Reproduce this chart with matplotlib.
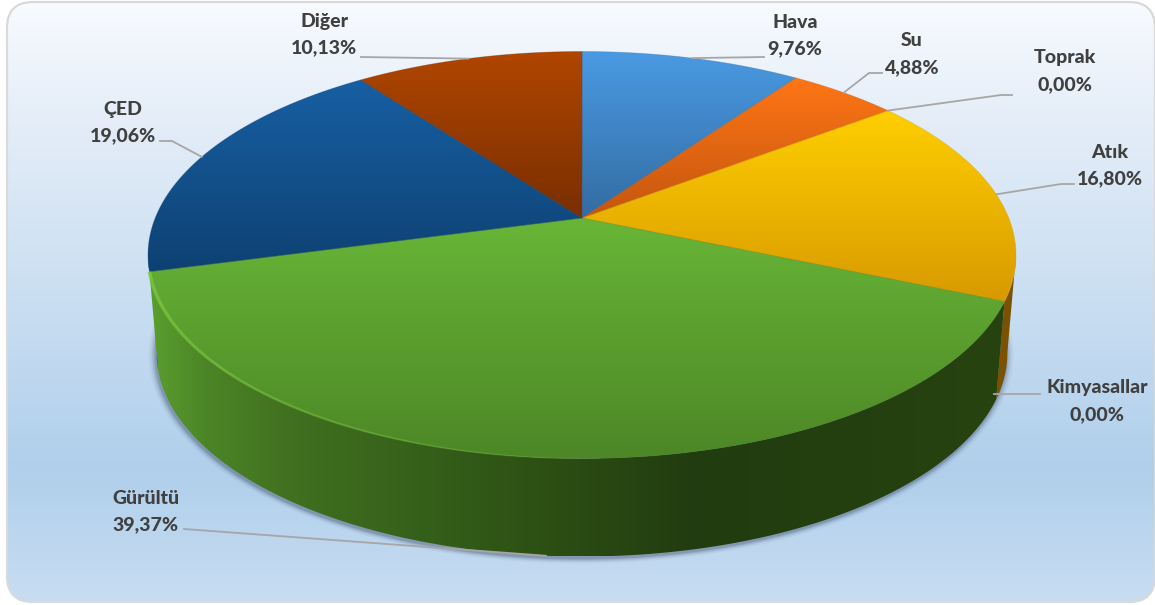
import numpy as np
import matplotlib
matplotlib.use("Agg")
import matplotlib.pyplot as plt
import matplotlib.colors as mcolors
from matplotlib.patches import FancyBboxPatch, Polygon
from matplotlib.collections import LineCollection

plt.rcParams['font.family'] = ['Lato', 'DejaVu Sans']

categories = ["Hava", "Su", "Toprak", "Atık", "Kimyasallar", "Gürültü", "ÇED", "Diğer"]
values = [9.76, 4.88, 0.00, 16.80, 0.00, 39.37, 19.06, 10.13]

top_colors = ["#4A9AE3", "#FF7615", "#FFCF00", "#FFCF00", "#66B536", "#68B637", "#175FA3", "#B04600"]
low_colors = ["#336CA2", "#C4560F", "#D89A00", "#D89A00", "#4D8726", "#4D8726", "#0E4172", "#7A2E00"]
wall_colors = ["#2A5580", "#8A3D08", "#80570A", "#7A5200", "#27430F", None, "#0D3A66", "#6A2800"]

# x position and colour of the shading on the front of the big slice
green_wall_x = [155, 205, 290, 420, 540, 700, 1000]
green_wall_c = ["#5A9C2E", "#4C8527", "#417020", "#35601A", "#2D5014", "#213C10", "#27430F"]

# label text centre (x, first line y) and leader bend / end points
label_pos = [(795, 22), (912, 41), (1065, 58), (1110, 152), (1097, 388), (146, 498), (123, 109), (324, 21)]
leader_bends = [
    [(764, 57)],
    [(869, 73), (882, 73)],
    [(1001, 95), (1012, 95)],
    [(1061, 184), (1074, 184)],
    [(1003, 394), (1040, 394)],
    [(184, 529)],
    [(172, 141), (160, 141)],
    [(361, 57)],
]

# pie seen in perspective: top rim ellipse centre and size, tilt factor
CX, CY = 582.0, 255.0
RX, RY = 434.0, 203.5
TILT = 37.0 / 203.5
DEPTH = 98.0
BOTTOM_SHRINK = 0.98


def project(theta, bottom=False):
    """Map clockwise-from-top angles (degrees) on the disc to pixel positions."""
    t = np.radians(theta)
    c, s = np.sin(t), np.cos(t)
    a = RX * np.sqrt(1 - TILT ** 2)
    w = 1 + TILT * s
    u = a * c / w
    v = (RY * s + RY * TILT) / w
    if bottom:
        return CX + u * BOTTOM_SHRINK, CY - v + DEPTH
    return CX + u, CY - v


def blend(stops, positions, samples):
    rgb = np.array([mcolors.to_rgb(c) for c in stops])
    return np.stack([np.interp(samples, positions, rgb[:, i]) for i in range(3)], axis=-1)


def gradient_patch(ax, pts, stops, positions, horizontal=False, zorder=3):
    """Fill a polygon with a linear gradient, clipped image plus soft edge."""
    pts = np.asarray(pts)
    x0, y0 = pts.min(axis=0)
    x1, y1 = pts.max(axis=0)
    if horizontal:
        img = blend(stops, positions, np.linspace(x0, x1, 600))[np.newaxis, :, :]
    else:
        img = blend(stops, positions, np.linspace(y0, y1, 400))[:, np.newaxis, :]
    im = ax.imshow(img, extent=(x0, x1, y1, y0), aspect='auto', zorder=zorder, interpolation='bilinear')
    poly = Polygon(pts, closed=True, transform=ax.transData, fill=False, lw=0)
    ax.add_patch(poly)
    im.set_clip_path(poly)
    return im


fig = plt.figure(figsize=(11.55, 6.05), dpi=100)
ax = fig.add_axes([0, 0, 1, 1])

# rounded panel with the pale blue backdrop
panel = FancyBboxPatch((7, 2), 1148, 600, boxstyle="round,pad=0,rounding_size=26",
                       fc="none", ec="#D9D9D9", lw=1.6, zorder=2)
ax.add_patch(panel)
bg = blend(["#F8FBFF", "#E4EDF8", "#C9DEF2", "#B0CFEB", "#C8DDF2"], [0, 0.2, 0.5, 0.78, 1.0], np.linspace(0, 1, 600))
bg_im = ax.imshow(bg[:, np.newaxis, :], extent=(7, 1155, 602, 2), aspect='auto', zorder=1)
bg_im.set_clip_path(panel)

edges = np.cumsum([0] + values) * 3.6
start = edges[:-1]
end = edges[1:]

# soft shadow under the pie
rim = np.linspace(0, 360, 361)
for grow, alpha in zip([7, 5, 3.5, 2, 1], [0.05, 0.08, 0.11, 0.14, 0.16]):
    t = np.radians(rim)
    sx = CX - 1 + (RX * BOTTOM_SHRINK + grow) * np.sin(t)
    sy = CY + DEPTH + 2 + (RY + grow * 0.7) * np.cos(t)
    ax.fill(sx, sy, color="#3C4C66", alpha=alpha, lw=0, zorder=2.5)

# front walls, only the part of each slice that faces the viewer
RIGHT_EDGE = np.degrees(np.arccos(-TILT))
LEFT_EDGE = 360 - RIGHT_EDGE
for i, (a0, a1) in enumerate(zip(start, end)):
    lo, hi = max(a0, RIGHT_EDGE), min(a1, LEFT_EDGE)
    if hi <= lo:
        continue
    th = np.linspace(lo, hi, 200)
    xt, yt = project(th)
    xb, yb = project(th[::-1], bottom=True)
    pts = np.column_stack([np.r_[xt, xb], np.r_[yt, yb]])
    if wall_colors[i] is None:
        gradient_patch(ax, pts, green_wall_c, green_wall_x, horizontal=True)
    else:
        ax.fill(pts[:, 0], pts[:, 1], color=wall_colors[i], lw=0, zorder=3)

# top faces
apex = (CX, CY - RY * TILT)
for i, (a0, a1) in enumerate(zip(start, end)):
    if a1 <= a0:
        continue
    th = np.linspace(a0, a1, 240)
    xt, yt = project(th)
    pts = np.column_stack([np.r_[apex[0], xt], np.r_[apex[1], yt]])
    y0, y1 = pts[:, 1].min(), pts[:, 1].max()
    gradient_patch(ax, pts, [top_colors[i], low_colors[i]], [y0, y1], zorder=4)
    ax.plot(np.r_[pts[:, 0], pts[0, 0]], np.r_[pts[:, 1], pts[0, 1]],
            color=mcolors.to_rgba(low_colors[i], 0.35), lw=0.6, zorder=4.1)

# light bevel along the left part of the big slice rim, fading to the right
i_big = categories.index("Gürültü")
th = np.linspace(end[i_big], 178, 160)
xr, yr = project(th)
segs = np.stack([np.column_stack([xr[:-1], yr[:-1]]), np.column_stack([xr[1:], yr[1:]])], axis=1)
fade = np.linspace(0.85, 0.2, len(segs))
bevel = LineCollection(segs, colors=[(0.49, 0.79, 0.25, f) for f in fade],
                       linewidths=np.linspace(2.6, 0.8, len(segs)), zorder=4.2)
ax.add_collection(bevel)

# leaders and labels
mids = (start + end) / 2
for i, name in enumerate(categories):
    if name == "Gürültü":
        anchor = project(mids[i], bottom=True)
    elif name == "Kimyasallar":
        anchor = project(mids[i], bottom=True)
        anchor = (anchor[0] - 2, 394)
    else:
        anchor = project(mids[i])
    path = [anchor] + leader_bends[i]
    ax.plot([p[0] for p in path], [p[1] for p in path], color="#A6A6A6", lw=1.3, zorder=5,
            solid_joinstyle='miter')
    lx, ly = label_pos[i]
    pct = f"{values[i]:.2f}".replace(".", ",") + "%"
    ax.text(lx, ly, name, ha='center', va='center', fontsize=14, fontweight='black', color="#404040", zorder=6)
    ax.text(lx, ly + 26.5, pct, ha='center', va='center', fontsize=14, fontweight='black', color="#404040", zorder=6)

ax.set_xlim(0, 1155)
ax.set_ylim(605, 0)
ax.axis('off')

fig.savefig("out.png", dpi=100, facecolor="white")
plt.close(fig)
